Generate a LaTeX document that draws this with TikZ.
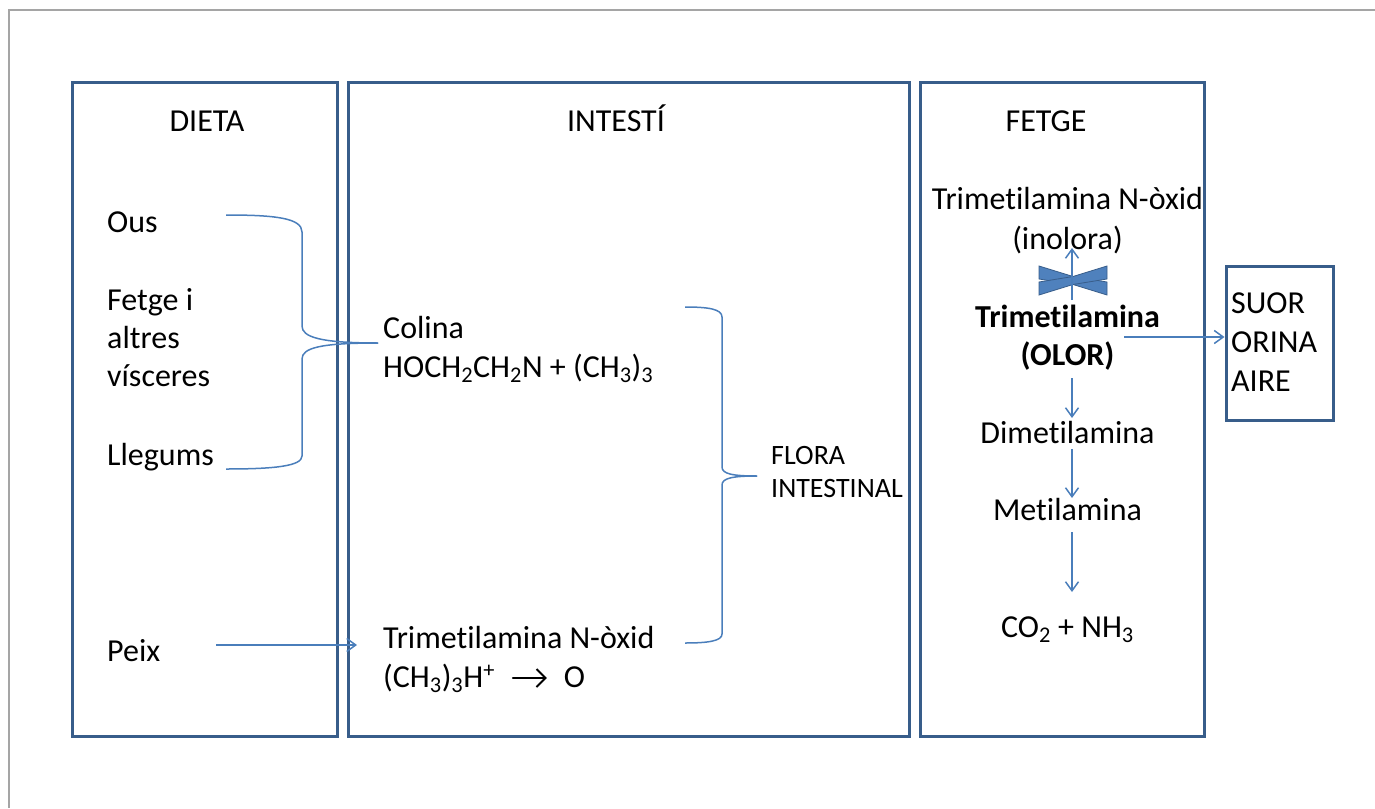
\documentclass[tikz,border=0pt]{standalone}
\usepackage{fontspec}
\setmainfont{Carlito}[RawFeature={-liga,-clig,-calt,-dlig}]
\usetikzlibrary{arrows.meta}
\definecolor{boxblue}{RGB}{56,93,138}
\definecolor{lineblue}{RGB}{74,126,187}
\definecolor{xfill}{RGB}{79,129,189}
\definecolor{framegray}{RGB}{165,165,165}
\tikzset{
  panel/.style={draw=boxblue, line width=3pt, minimum width=#1, inner sep=0},
  txt/.style={font=\fontsize{32}{39}\selectfont, inner sep=0, anchor=base west},
  ctxt/.style={font=\fontsize{32}{39}\selectfont, inner sep=0, anchor=base},
  stxt/.style={font=\fontsize{28}{34}\selectfont, inner sep=0, anchor=base west},
  conn/.style={draw=lineblue, line width=1.5pt},
  arr/.style={conn, -{Straight Barb[length=9pt,width=13pt,line width=1.5pt]}},
}
\newcommand{\reacarrow}{\tikz[baseline=0pt]\draw[black, line width=2pt, line cap=round, -{Straight Barb[length=9pt,width=18pt,line width=2pt]}] (0pt,9pt) -- (34pt,9pt);}
\begin{document}
\begin{tikzpicture}[x=1pt,y=-1pt]
\useasboundingbox (0,0) rectangle (1375,808);
% slide frame
\draw[framegray, line width=2pt] (9,808) -- (9,10) -- (1375,10);
% panels
\node[panel=265pt, minimum height=654pt] (pdieta) at (204.5,409) {};
\node[panel=561pt, minimum height=654pt] (pintesti) at (628.5,409) {};
\node[panel=284pt, minimum height=654pt] (pfetge) at (1062,409) {};
\node[panel=107pt, minimum height=154pt] (psuor) at (1279.5,343) {};
% titles
\node[ctxt] (tdieta) at (207,131) {DIETA};
\node[ctxt] (tintesti) at (616,131) {INTESTÍ};
\node[ctxt] (tfetge) at (1046,131) {FETGE};
% dieta
\node[txt] (ous) at (107,232) {Ous};
\node[txt] (fetge1) at (107,310) {Fetge i};
\node[txt] (fetge2) at (107,348) {altres};
\node[txt] (fetge3) at (107,386) {vísceres};
\node[txt] (llegums) at (107,465) {Llegums};
\node[txt] (peix) at (107,661) {Peix};
% intesti
\node[txt] (colina) at (383,338) {Colina};
\node[txt] (colinaf) at (383,377) {HOCH\textsubscript{2}CH\textsubscript{2}N + (CH\textsubscript{3})\textsubscript{3}};
\node[txt] (tmao) at (383,648) {Trimetilamina N-òxid};
\node[txt] (tmaof) at (383,687) {(CH\textsubscript{3})\textsubscript{3}H\textsuperscript{+}\hspace{17pt}\reacarrow\hspace{16pt}O};
\node[stxt] (flora1) at (771,464) {FLORA};
\node[stxt] (flora2) at (771,497) {INTESTINAL};
% fetge
\node[ctxt] (tmaox) at (1067.5,209) {Trimetilamina N-òxid};
\node[ctxt] (inolora) at (1067.5,249) {(inolora)};
\node[ctxt, font=\fontsize{32}{39}\selectfont\bfseries] (tma) at (1067.5,327) {Trimetilamina};
\node[ctxt, font=\fontsize{32}{39}\selectfont\bfseries] (olor) at (1067.5,365) {(OLOR)};
\node[ctxt] (dma) at (1067.5,443) {Dimetilamina};
\node[ctxt] (mma) at (1067.5,520) {Metilamina};
\node[ctxt] (co2) at (1067.5,637) {CO\textsubscript{2} + NH\textsubscript{3}};
% suor
\node[txt] (suor1) at (1231,313) {SUOR};
\node[txt] (suor2) at (1231,352) {ORINA};
\node[txt] (suor3) at (1231,391) {AIRE};
% connector end points
\coordinate (bousA) at (226,215);
\coordinate (bllegA) at (226,469);
\coordinate (btip) at (378,343);
\coordinate (fltop) at (685,307);
\coordinate (flbot) at (685,643);
\coordinate (fltip) at (757,476);
\coordinate (peixA) at (216,645);
\coordinate (peixB) at (357,645);
\coordinate (upA) at (1072,300);
\coordinate (upB) at (1072,248);
\coordinate (d1A) at (1072,378);
\coordinate (d1B) at (1072,418);
\coordinate (d2A) at (1072,449);
\coordinate (d2B) at (1072,498);
\coordinate (d3A) at (1072,532);
\coordinate (d3B) at (1072,592);
\coordinate (rA) at (1124,337);
% diet brace
\draw[conn] (bousA) .. controls (275,215) and (302,218) .. (302,232) -- (302,326)
  .. controls (302,337) and (320,343) .. (btip);
\draw[conn] (btip) .. controls (320,343) and (302,348) .. (302,359) -- (302,456)
  .. controls (302,466) and (275,469) .. (bllegA);
% flora brace
\draw[conn] (fltop) .. controls (708,307) and (722,309) .. (722,317) -- (722,467)
  .. controls (722,474) and (733,476) .. (fltip);
\draw[conn] (fltip) .. controls (733,476) and (722,478) .. (722,485) -- (722,634)
  .. controls (722,641) and (708,643) .. (flbot);
% peix arrow
\draw[arr] (peixA) -- (peixB);
% crossed mark
\fill[xfill, draw=boxblue, line width=0.8pt] (1039,266) -- (1073,276.5) -- (1107,282) -- (1107,295) -- (1073,284.5) -- (1039,279) -- cycle;
\fill[xfill, draw=boxblue, line width=0.8pt] (1039,295) -- (1073,284.5) -- (1107,279) -- (1107,266) -- (1073,276.5) -- (1039,282) -- cycle;
% fetge arrows
\draw[arr] (upA) -- (upB);
\draw[arr] (d1A) -- (d1B);
\draw[arr] (d2A) -- (d2B);
\draw[arr] (d3A) -- (d3B);
\draw[arr] (rA) -- (rA -| psuor.west);
\end{tikzpicture}
\end{document}
